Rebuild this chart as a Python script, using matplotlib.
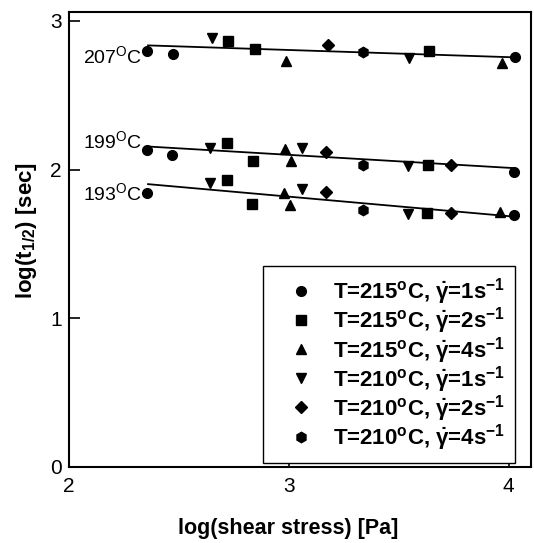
import numpy as np
import matplotlib
matplotlib.use('Agg')
import matplotlib.pyplot as plt

plt.rcParams['font.family'] = ['Liberation Sans', 'DejaVu Sans']
plt.rcParams['mathtext.default'] = 'regular'

# log(shear stress) / log(t1/2) pairs per run, all three temperature groups together
circ_x = [2.355, 2.474, 4.027, 2.356, 2.470, 4.023, 2.356, 4.023]
circ_y = [2.800, 2.780, 2.757, 2.133, 2.100, 1.987, 1.842, 1.696]
sq_x = [2.724, 2.845, 3.638, 2.720, 2.838, 3.633, 2.720, 2.833, 3.630]
sq_y = [2.867, 2.813, 2.800, 2.178, 2.057, 2.028, 1.931, 1.770, 1.707]
up_x = [2.986, 3.970, 2.982, 3.008, 2.979, 3.005, 3.962]
up_y = [2.732, 2.716, 2.140, 2.061, 1.842, 1.763, 1.718]
dn_x = [2.649, 3.547, 2.641, 3.060, 3.542, 2.641, 3.060, 3.542]
dn_y = [2.885, 2.750, 2.145, 2.145, 2.021, 1.913, 1.869, 1.703]
dia_x = [3.179, 3.171, 3.739, 3.171, 3.735]
dia_y = [2.840, 2.115, 2.028, 1.846, 1.707]
hex_x = [3.338, 3.338, 3.335]
hex_y = [2.790, 2.032, 1.725]

labels = [r'T=215$^{o}$C, $\dot{\gamma}$=1s$^{-1}$',
          r'T=215$^{o}$C, $\dot{\gamma}$=2s$^{-1}$',
          r'T=215$^{o}$C, $\dot{\gamma}$=4s$^{-1}$',
          r'T=210$^{o}$C, $\dot{\gamma}$=1s$^{-1}$',
          r'T=210$^{o}$C, $\dot{\gamma}$=2s$^{-1}$',
          r'T=210$^{o}$C, $\dot{\gamma}$=4s$^{-1}$']

# fitted lines (end points) for each equivalent temperature
fit_x = [2.36, 4.02]
fit_207 = [2.835, 2.755]
fit_199 = [2.155, 2.010]
fit_193 = [1.902, 1.684]
temp_labels = ['207$^{O}$C', '199$^{O}$C', '193$^{O}$C']
temp_label_y = [2.76, 2.19, 1.84]

fig = plt.figure(figsize=(5.34, 5.43), dpi=100)
ax = fig.add_axes([0.129, 0.140, 0.865, 0.838])

for fy in (fit_207, fit_199, fit_193):
    ax.plot(fit_x, fy, color='black', lw=1.3, zorder=2)

series = [(circ_x, circ_y, 'o', 7), (sq_x, sq_y, 's', 6.5), (up_x, up_y, '^', 7),
          (dn_x, dn_y, 'v', 7), (dia_x, dia_y, 'D', 6), (hex_x, hex_y, 'h', 7.5)]
for (xs, ys, m, ms), lab in zip(series, labels):
    ax.plot(xs, ys, ls='none', marker=m, ms=ms, color='black', label=lab, zorder=3)

for t, ty in zip(temp_labels, temp_label_y):
    ax.text(2.335, ty, t, ha='right', va='center', fontsize=14)

ax.set_xlim(2, 4.1)
ax.set_ylim(0, 3.06)
ax.set_xticks([2, 3, 4])
ax.set_yticks([0, 1, 2, 3])
ax.tick_params(direction='in', length=8, width=1.2, labelsize=15)
ax.tick_params(axis='x', pad=7)
ax.tick_params(axis='y', pad=5)
for s in ax.spines.values():
    s.set_linewidth(1.5)

ax.set_xlabel('log(shear stress) [Pa]', fontsize=15.5, fontweight='bold')
ax.set_ylabel('log(t$_{1/2}$) [sec]', fontsize=16, fontweight='bold')
ax.xaxis.set_label_coords(0.474, -0.112)
ax.yaxis.set_label_coords(-0.064, 0.52)

leg = ax.legend(loc='lower left', bbox_to_anchor=(0.42, 0.009), frameon=True,
                fancybox=False, edgecolor='black', framealpha=1,
                prop={'weight': 'bold', 'size': 16}, handletextpad=0.2,
                labelspacing=-0.08, borderpad=0.45, handlelength=2.5, borderaxespad=0)
leg.get_frame().set_linewidth(1.0)

fig.savefig('out.png', dpi=100)
